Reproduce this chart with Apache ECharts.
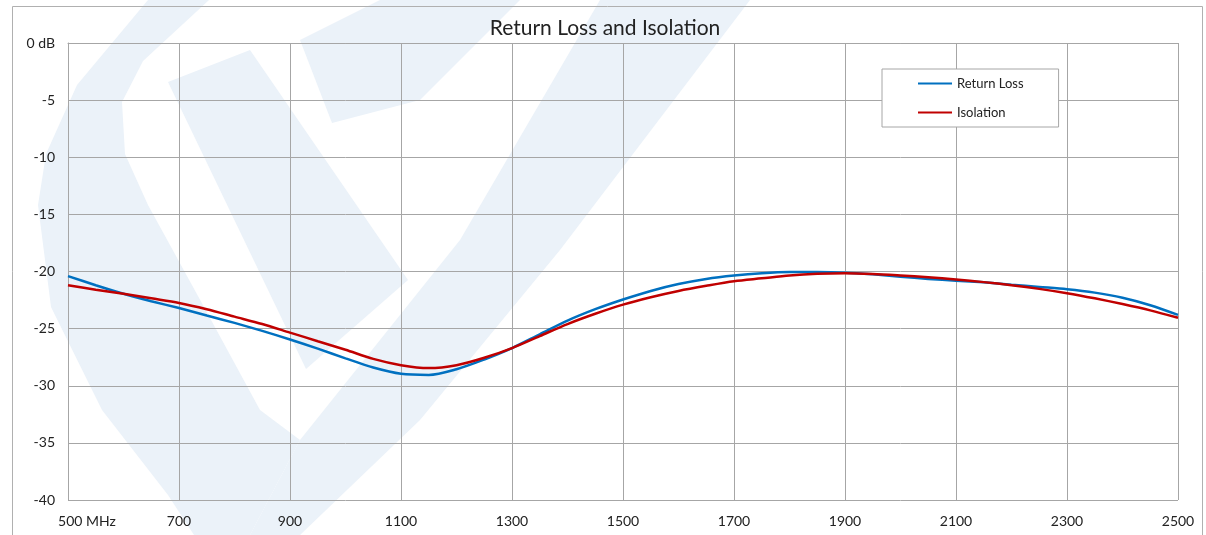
<!DOCTYPE html>
<html>
<head>
<meta charset="utf-8">
<script src="https://cdn.jsdelivr.net/npm/echarts@6/dist/echarts.min.js"></script>
<style>
html, body { margin: 0; padding: 0; background: #fff; }
#main { width: 1206px; height: 535px; }
</style>
</head>
<body>
<div id="main"></div>
<script>
//频率 (MHz)
var freqs = [500, 550, 600, 650, 700, 750, 800, 850, 900, 950, 1000, 1050, 1100, 1150, 1200, 1250, 1300, 1350, 1400, 1450, 1500,
    1550, 1600, 1650, 1700, 1750, 1800, 1850, 1900, 1950, 2000, 2050, 2100, 2150, 2200, 2250, 2300, 2350, 2400, 2450, 2500];
//回波损耗 (dB)
var returnLoss = [-20.4, -21.2, -21.95, -22.6, -23.2, -23.85, -24.5, -25.2, -25.95, -26.75, -27.6, -28.4, -28.95, -29.05, -28.55, -27.7, -26.7, -25.5, -24.3, -23.3, -22.45,
    -21.7, -21.1, -20.65, -20.35, -20.15, -20.05, -20.05, -20.1, -20.25, -20.45, -20.65, -20.8, -20.95, -21.15, -21.35, -21.55, -21.85, -22.3, -22.95, -23.8];
//隔离度 (dB)
var isolation = [-21.2, -21.6, -21.95, -22.35, -22.75, -23.3, -23.95, -24.6, -25.35, -26.1, -26.85, -27.65, -28.2, -28.45, -28.2, -27.55, -26.7, -25.65, -24.6, -23.7, -22.9,
    -22.25, -21.7, -21.25, -20.85, -20.6, -20.35, -20.2, -20.15, -20.22, -20.35, -20.5, -20.7, -20.93, -21.2, -21.52, -21.9, -22.35, -22.85, -23.4, -24.05];
var seriesNames = ['Return Loss', 'Isolation'];
var xTicks = [500, 700, 900, 1100, 1300, 1500, 1700, 1900, 2100, 2300, 2500];
var yTicks = [0, -5, -10, -15, -20, -25, -30, -35, -40];

var font = 'Lato, "Open Sans", sans-serif';
var wm = '#ebf2f9';

//组合数据点
function toPairs(xs, ys) {
    var r = [];
    for (var i = 0; i < xs.length; i++) {
        r.push([xs[i], ys[i]]);
    }
    return r;
}

var myChart = echarts.init(document.getElementById('main'));
var option = {
    backgroundColor: '#fff',
    animation: false,
    title: {
        text: 'Return Loss and Isolation',
        left: 600,
        textAlign: 'center',
        top: 13,
        textStyle: { fontFamily: font, fontSize: 21, fontWeight: 'normal', color: '#222' }
    },
    graphic: [
        //背景水印
        { type: 'polygon', z: -10, silent: true, shape: { points: [[148, 0], [209, 0], [143, 61], [122, 102], [125, 154], [148, 205], [204, 307], [260, 410], [300, 440], [250, 535], [194, 535], [168, 495], [102, 410], [51, 307], [38, 205], [46, 154], [77, 85]] }, style: { fill: wm } },
        { type: 'polygon', z: -10, silent: true, shape: { points: [[600, 0], [750, 0], [560, 250], [420, 420], [300, 535], [250, 535], [300, 440], [460, 240]] }, style: { fill: wm } },
        { type: 'polygon', z: -10, silent: true, shape: { points: [[168, 82], [250, 50], [408, 280], [306, 369]] }, style: { fill: wm } },
        { type: 'polygon', z: -10, silent: true, shape: { points: [[380, 0], [520, 0], [420, 100], [332, 123], [300, 40]] }, style: { fill: wm } },
        //外边框
        { type: 'rect', z: 0, silent: true, shape: { x: 12.5, y: 6.5, width: 1190, height: 600 }, style: { fill: 'none', stroke: '#b0b0b0', lineWidth: 1 } }
    ],
    legend: {
        data: seriesNames,
        orient: 'vertical',
        left: 882,
        top: 69,
        itemWidth: 34,
        itemHeight: 14,
        itemGap: 16,
        padding: [8, 35, 8, 35],
        borderColor: '#a6a6a6',
        borderWidth: 1,
        backgroundColor: '#fff',
        itemStyle: { opacity: 0 },
        textStyle: { fontFamily: font, fontSize: 13, color: '#222' }
    },
    grid: {
        left: 68,
        right: 28,
        top: 43,
        bottom: 35,
        containLabel: false
    },
    xAxis: {
        type: 'value',
        min: 500,
        max: 2500,
        interval: 200,
        axisLine: { show: true, lineStyle: { color: '#a6a6a6', width: 1 } },
        axisTick: { show: false },
        splitLine: { show: true, lineStyle: { color: '#a6a6a6', width: 1 } },
        axisLabel: {
            margin: 14,
            fontFamily: font,
            fontSize: 14,
            color: '#222',
            formatter: function(v) {
                if (v == xTicks[0]) return '{first|' + v + ' MHz}';
                return v;
            },
            rich: {
                first: { fontFamily: font, fontSize: 14, color: '#222', padding: [0, 0, 0, 38] }
            }
        }
    },
    yAxis: {
        type: 'value',
        min: yTicks[yTicks.length - 1],
        max: yTicks[0],
        interval: 5,
        axisLine: { show: true, lineStyle: { color: '#a6a6a6', width: 1 } },
        axisTick: { show: false },
        splitLine: { show: true, lineStyle: { color: '#a6a6a6', width: 1 } },
        axisLabel: {
            margin: 13,
            fontFamily: font,
            fontSize: 14,
            color: '#222',
            formatter: function(v) {
                return v == 0 ? '0 dB' : v;
            }
        }
    },
    series: [{
        name: seriesNames[0],
        type: 'line',
        smooth: 0.3,
        symbol: 'none',
        data: toPairs(freqs, returnLoss),
        lineStyle: { color: '#0070c0', width: 2.5 },
        itemStyle: { color: '#0070c0' },
        z: 3
    }, {
        name: seriesNames[1],
        type: 'line',
        smooth: 0.3,
        symbol: 'none',
        data: toPairs(freqs, isolation),
        lineStyle: { color: '#c00000', width: 2.5 },
        itemStyle: { color: '#c00000' },
        z: 4
    }]
};
myChart.setOption(option);
</script>
</body>
</html>
